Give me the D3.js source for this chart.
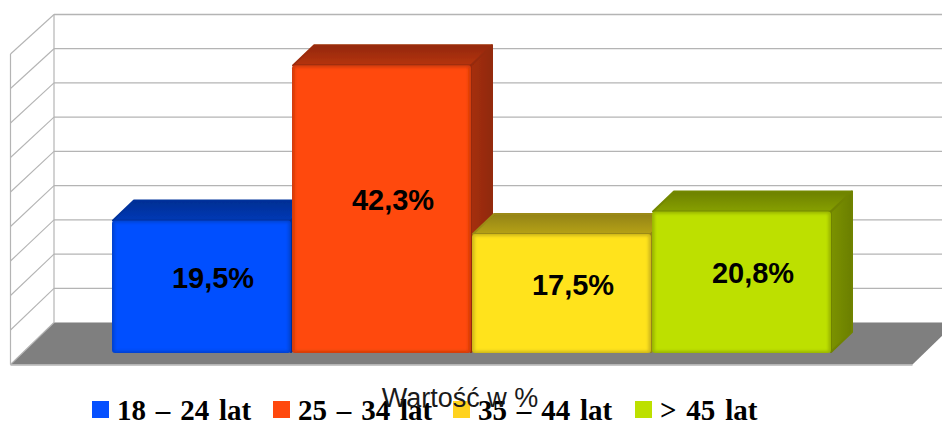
<!DOCTYPE html>
<html><head><meta charset="utf-8">
<script src="https://cdn.jsdelivr.net/npm/d3@7/dist/d3.min.js"></script>
<style>html,body{margin:0;padding:0;background:#fff;overflow:hidden}svg{display:block}</style>
</head><body><svg id="c" width="942" height="424"></svg>
<script>
const categories = ["18 – 24 lat","25 – 34 lat","35 – 44 lat","> 45 lat"];
const values = [19.5,42.3,17.5,20.8];
const valueLabels = ["19,5%","42,3%","17,5%","20,8%"];
const colors = ["#0550ff","#ff480d","#ffe31f","#bde000"];
const legendColors = ["#0550ff","#ff480d","#ffd21f","#bde000"];
const ticks = [0,5,10,15,20,25,30,35,40,45];
const axisTitle = "Wartość w %";

const svg = d3.select("#c");
const defs = svg.append("defs");
const depthX = 22, depthY = 21;
const xBand = d3.scaleBand().domain(categories).range([112,832]).padding(0);
const yFront = d3.scaleLinear().domain([0,45]).range([353,47]);
const yBack = d3.scaleLinear().domain([0,45]).range([322.5,14.5]);
const ySide = d3.scaleLinear().domain([0,45]).range([364.5,54]);
const wallL = 54, sideL = 10.5, floorR = 912.5, wallR = 956;
const grid = "#b4b4b4";

defs.append("filter").attr("id","soft").append("feGaussianBlur").attr("stdDeviation",0.5);
defs.append("filter").attr("id","edge").attr("x","-5%").attr("y","-5%").attr("width","110%").attr("height","110%")
  .append("feGaussianBlur").attr("stdDeviation",1.5);

categories.forEach((c,i)=>{
  const col = d3.color(colors[i]);
  const top = defs.append("linearGradient").attr("id","top"+i).attr("x1",0).attr("y1",0).attr("x2",0).attr("y2",1);
  top.append("stop").attr("offset",0).attr("stop-color",col.darker(1.55));
  top.append("stop").attr("offset",1).attr("stop-color",col.darker(0.95));
  const side = defs.append("linearGradient").attr("id","side"+i).attr("x1",0).attr("y1",0).attr("x2",1).attr("y2",0);
  side.append("stop").attr("offset",0).attr("stop-color",col.darker(1.2));
  side.append("stop").attr("offset",1).attr("stop-color",col.darker(1.6));
  defs.append("clipPath").attr("id","clip"+i).append("rect")
    .attr("x",xBand(c)).attr("y",yFront(values[i])).attr("width",xBand.bandwidth()-1).attr("height",yFront(0)-yFront(values[i])).attr("rx",3);
});

// floor
const g = svg.append("g").attr("filter","url(#soft)");
g.append("polygon").attr("fill","#7f7f7f")
  .attr("points",[[sideL,ySide(0)],[wallL,yBack(0)],[wallR,yBack(0)],[floorR,ySide(0)]].join(" "));
g.append("line").attr("x1",sideL).attr("x2",floorR).attr("y1",ySide(0)+0.5).attr("y2",ySide(0)+0.5).attr("stroke",grid).attr("stroke-width",1.5);

// walls
g.selectAll("line.h").data(ticks.slice(1)).join("line").attr("class","h")
  .attr("x1",wallL).attr("x2",942).attr("y1",d=>yBack(d)).attr("y2",d=>yBack(d))
  .attr("stroke",grid).attr("stroke-width",1.3);
g.selectAll("line.d").data(ticks).join("line").attr("class","d")
  .attr("x1",sideL).attr("x2",wallL).attr("y1",d=>ySide(d)).attr("y2",d=>yBack(d))
  .attr("stroke",grid).attr("stroke-width",1.1);
g.append("line").attr("x1",wallL).attr("x2",wallL).attr("y1",yBack(45)).attr("y2",yBack(0)).attr("stroke",grid).attr("stroke-width",1.2);
g.append("line").attr("x1",sideL).attr("x2",sideL).attr("y1",ySide(45)).attr("y2",ySide(0)).attr("stroke",grid).attr("stroke-width",1.2);

// bars
categories.forEach((c,i)=>{
  const x0 = xBand(c), x1 = x0 + xBand.bandwidth() - 1, yT = yFront(values[i]), yB = yFront(0);
  const col = d3.color(colors[i]);
  const b = g.append("g");
  b.append("polygon").attr("fill",`url(#top${i})`).attr("stroke",col.darker(1.4)).attr("stroke-width",2).attr("stroke-linejoin","round")
    .attr("points",[[x0+1,yT],[x0+depthX,yT-depthY+1],[x1+depthX-1,yT-depthY+1],[x1,yT]].join(" "));
  b.append("polygon").attr("fill",`url(#side${i})`).attr("stroke",col.darker(1.5)).attr("stroke-width",2).attr("stroke-linejoin","round")
    .attr("points",[[x1,yT],[x1+depthX-1,yT-depthY+1],[x1+depthX-1,yB-depthY],[x1,yB-1]].join(" "));
  b.append("rect").attr("x",x0).attr("y",yT).attr("width",x1-x0).attr("height",yB-yT).attr("rx",3)
    .attr("fill",col.darker(0.6));
  b.append("g").attr("clip-path",`url(#clip${i})`).append("rect")
    .attr("x",x0+2.5).attr("y",yT+2).attr("width",x1-x0-5).attr("height",yB-yT-4)
    .attr("fill",colors[i]).attr("filter","url(#edge)");
});

// value labels
svg.selectAll("text.v").data(categories).join("text").attr("class","v")
  .attr("x",c=>xBand(c)+xBand.bandwidth()/2+11)
  .attr("y",(c,i)=>(yFront(values[i])+yFront(0))/2-depthY+22)
  .attr("text-anchor","middle")
  .attr("font-family","'Liberation Sans',Arial,sans-serif").attr("font-weight","bold").attr("font-size",29)
  .text((c,i)=>valueLabels[i]);

// legend
const legendX = [92,273,453,635];
const lg = svg.append("g");
categories.forEach((c,i)=>{
  lg.append("rect").attr("x",legendX[i]).attr("y",401).attr("width",17).attr("height",17).attr("fill",legendColors[i]);
  lg.append("text").attr("x",legendX[i]+25).attr("y",420)
    .attr("font-family","'Liberation Serif',serif").attr("font-weight","bold").attr("font-size",29)
    .attr("word-spacing",2.6).text(c);
});

// axis title
svg.append("text").attr("x",460).attr("y",407).attr("text-anchor","middle")
  .attr("font-family","'Liberation Sans',Arial,sans-serif").attr("font-size",27).attr("fill","#1a1a1a").text(axisTitle);
</script></body></html>
